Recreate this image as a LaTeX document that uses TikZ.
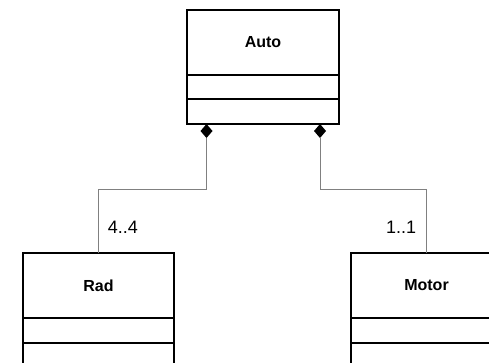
\documentclass[tikz,border=0pt]{standalone}
\usepackage{fontspec}
\setmainfont{Liberation Sans}
\usetikzlibrary{positioning, shapes.geometric}

\begin{document}
\begin{tikzpicture}[x=1pt, y=1pt, node distance=0pt]

% Define class styles
\tikzstyle{classname} = [draw, rectangle, line width=1.1pt, outer sep=0pt, inner sep=0pt, minimum width=151pt, minimum height=65pt, font=\fontsize{16}{19}\selectfont\bfseries]
\tikzstyle{compart} = [draw, rectangle, line width=1.1pt, outer sep=0pt, inner sep=0pt, minimum width=151pt, minimum height=25pt]
\tikzstyle{comp} = [diamond, fill=black, inner sep=0pt, outer sep=0pt, minimum width=12pt, minimum height=14pt]
\tikzstyle{link} = [draw=gray, line width=0.8pt]
\tikzstyle{mult} = [inner sep=0pt, font=\fontsize{18}{21}\selectfont]

\useasboundingbox (0,0) rectangle (489,-362);
\clip (0,0) rectangle (489,-362);

% Classes
\node [classname, minimum width=152pt] (auto) at (263,-42.5) {Auto};
\node [compart, below=of auto, minimum width=152pt, minimum height=24pt] (autoattr) {};
\node [compart, below=of autoattr, minimum width=152pt] (autoops) {};

\node [classname] (rad) at (98.5,-285.5) {Rad};
\node [compart, below=of rad] (radattr) {};
\node [compart, below=of radattr] (radops) {};

\node [classname] (motor) at (426.5,-285.5) {Motor};
\node [compart, below=of motor] (motorattr) {};
\node [compart, below=of motorattr] (motorops) {};

% Composition diamonds
\node [comp, anchor=north] (drad) at ([xshift=19.5pt]autoops.south west) {};
\node [comp, anchor=north] (dmotor) at ([xshift=-19pt]autoops.south east) {};

% Connections
\draw [link] (drad.south) -- ++(0,-51) -| node[mult, pos=0.8, anchor=west, xshift=9pt] {4..4} (rad.north);
\draw [link] (dmotor.south) -- ++(0,-51) -| node[mult, pos=0.8, anchor=east, xshift=-10pt] {1..1} (motor.north);

\end{tikzpicture}
\end{document}
